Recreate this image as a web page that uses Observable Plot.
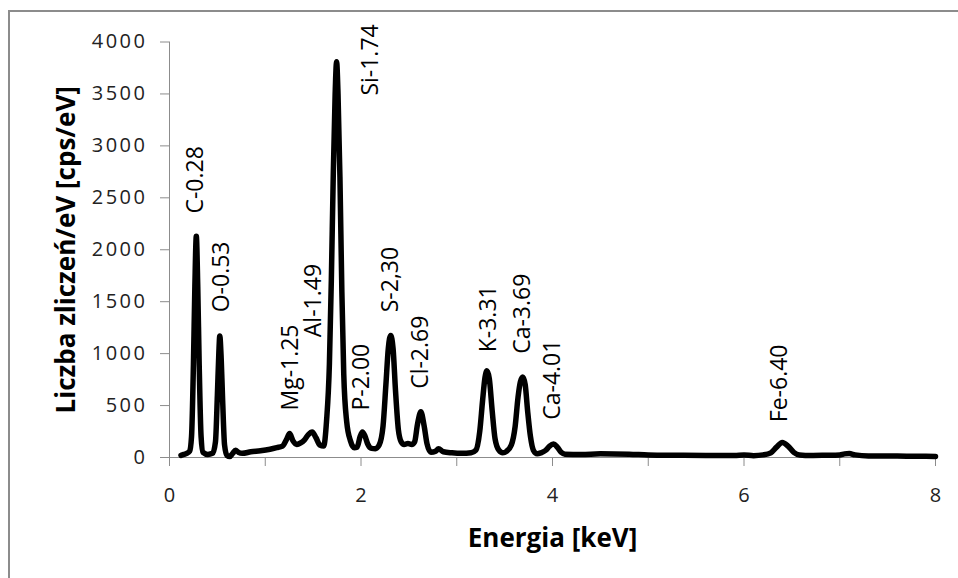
<!DOCTYPE html>
<html>
<head>
<meta charset="utf-8">
<script src="https://cdn.jsdelivr.net/npm/d3@7"></script>
<script src="https://cdn.jsdelivr.net/npm/@observablehq/plot@0.6"></script>
<style>
  html, body { margin: 0; padding: 0; background: white; overflow: hidden; }
  #wrap { position: relative; width: 958px; height: 578px; overflow: hidden; }
  #frame { position: absolute; left: 8px; top: 10px; width: 1100px; height: 1100px;
           border: 2px solid #8c8c8c; pointer-events: none; box-sizing: border-box; }
  g[aria-label="y-axis tick label"] text { letter-spacing: 2.5px; }
</style>
</head>
<body>
<div id="wrap"><div id="chart"></div><div id="frame"></div></div>
<script>
// Spectrum: energy (keV) and counts (cps/eV)
const energy = [0.12,0.15,0.18,0.21,0.23,0.25,0.265,0.28,0.295,0.31,0.33,0.35,0.40,0.45,0.48,0.50,0.515,0.525,0.54,0.555,0.575,0.60,0.63,0.66,0.69,0.72,0.76,0.85,0.95,1.05,1.12,1.18,1.22,1.255,1.29,1.33,1.37,1.41,1.45,1.49,1.53,1.57,1.61,1.64,1.67,1.69,1.71,1.73,1.745,1.76,1.78,1.80,1.82,1.85,1.89,1.93,1.96,1.99,2.015,2.04,2.07,2.11,2.15,2.19,2.23,2.26,2.285,2.31,2.335,2.36,2.39,2.42,2.45,2.49,2.53,2.56,2.59,2.625,2.66,2.69,2.73,2.78,2.81,2.86,2.95,3.05,3.15,3.20,3.24,3.27,3.295,3.315,3.34,3.37,3.40,3.44,3.48,3.52,3.57,3.61,3.64,3.665,3.69,3.715,3.74,3.77,3.80,3.84,3.88,3.93,3.97,4.01,4.05,4.09,4.13,4.3,4.5,4.8,5.0,5.3,5.6,5.9,6.0,6.1,6.2,6.28,6.34,6.40,6.46,6.52,6.58,6.7,6.85,7.0,7.05,7.10,7.16,7.3,7.5,7.7,7.9,8.0];
const counts = [20,30,40,60,200,900,1650,2130,1650,900,200,50,30,40,150,600,1000,1170,950,550,120,20,10,40,70,50,40,55,65,80,95,110,170,230,160,125,140,170,220,245,190,120,110,350,900,1700,2700,3500,3810,3500,2700,1600,800,350,160,95,100,200,245,210,130,88,85,120,300,700,1050,1175,1050,650,270,150,125,135,125,150,320,440,300,130,50,60,85,55,45,40,45,70,250,550,770,835,760,450,180,70,45,60,120,300,580,730,775,700,450,200,70,35,45,70,110,130,100,50,32,28,35,32,25,22,20,20,25,18,25,45,100,145,110,50,25,20,22,25,35,38,25,15,15,12,12,10];

// Peak labels
const labelText = ["C-0.28","O-0.53","Mg-1.25","Al-1.49","Si-1.74","P-2.00","S-2,30","Cl-2.69","K-3.31","Ca-3.69","Ca-4.01","Fe-6.40"];
const labelX = [0.276,0.547,1.26,1.504,2.103,2.005,2.308,2.618,3.328,3.687,4.0,6.368];
const labelY = [2348,1398,452,1158,3484,452,1398,661,1013,998,363,340];

// Axes
const xTicks = [0,1,2,3,4,5,6,7,8];
const xTickLabels = [0,2,4,6,8];
const yTicks = [0,500,1000,1500,2000,2500,3000,3500,4000];
const xTitle = "Energia [keV]";
const yTitle = "Liczba zliczeń/eV [cps/eV]";

const spectrum = energy.map((e, i) => ({e, c: counts[i]}));
const labels = labelText.map((t, i) => ({t, x: labelX[i], y: labelY[i]}));

const axisGray = "#8c8c8c";
const font = "'Open Sans', sans-serif";

const chart = Plot.plot({
  width: 958,
  height: 578,
  marginLeft: 169,
  marginRight: 23,
  marginTop: 41.5,
  marginBottom: 121,
  style: {fontFamily: font, background: "white", color: "#222"},
  x: {domain: [0, 8]},
  y: {domain: [0, 4000]},
  marks: [
    Plot.ruleY([0], {stroke: axisGray, strokeWidth: 1}),
    Plot.ruleX([0], {stroke: axisGray, strokeWidth: 1}),
    Plot.axisX({ticks: xTicks, tickFormat: d => xTickLabels.includes(d) ? String(d) : "",
                tickSize: 9, tickPadding: 21, stroke: axisGray, fill: "#222", fontSize: 20, label: null}),
    Plot.axisY({ticks: yTicks, tickFormat: d => String(d),
                tickSize: 9, tickPadding: 13, stroke: axisGray, fill: "#222", fontSize: 20, label: null}),
    Plot.line(spectrum, {x: "e", y: "c", stroke: "black", strokeWidth: 5.5,
                         curve: "monotone-x", strokeLinejoin: "round", strokeLinecap: "round"}),
    Plot.text(labels, {x: "x", y: "y", text: "t", rotate: -90, textAnchor: "start",
                       lineAnchor: "middle", fontSize: 23, fill: "black", fontFamily: font}),
    Plot.text([xTitle], {frameAnchor: "bottom", textAnchor: "middle", lineAnchor: "bottom", dy: 89,
                         fontSize: 26, fontWeight: "bold", fill: "black", fontFamily: font}),
    Plot.text([yTitle], {frameAnchor: "left", rotate: -90, textAnchor: "middle", lineAnchor: "middle", dx: -103,
                         fontSize: 26, fontWeight: "bold", fill: "black", fontFamily: font})
  ]
});
document.getElementById("chart").appendChild(chart);
</script>
</body>
</html>
